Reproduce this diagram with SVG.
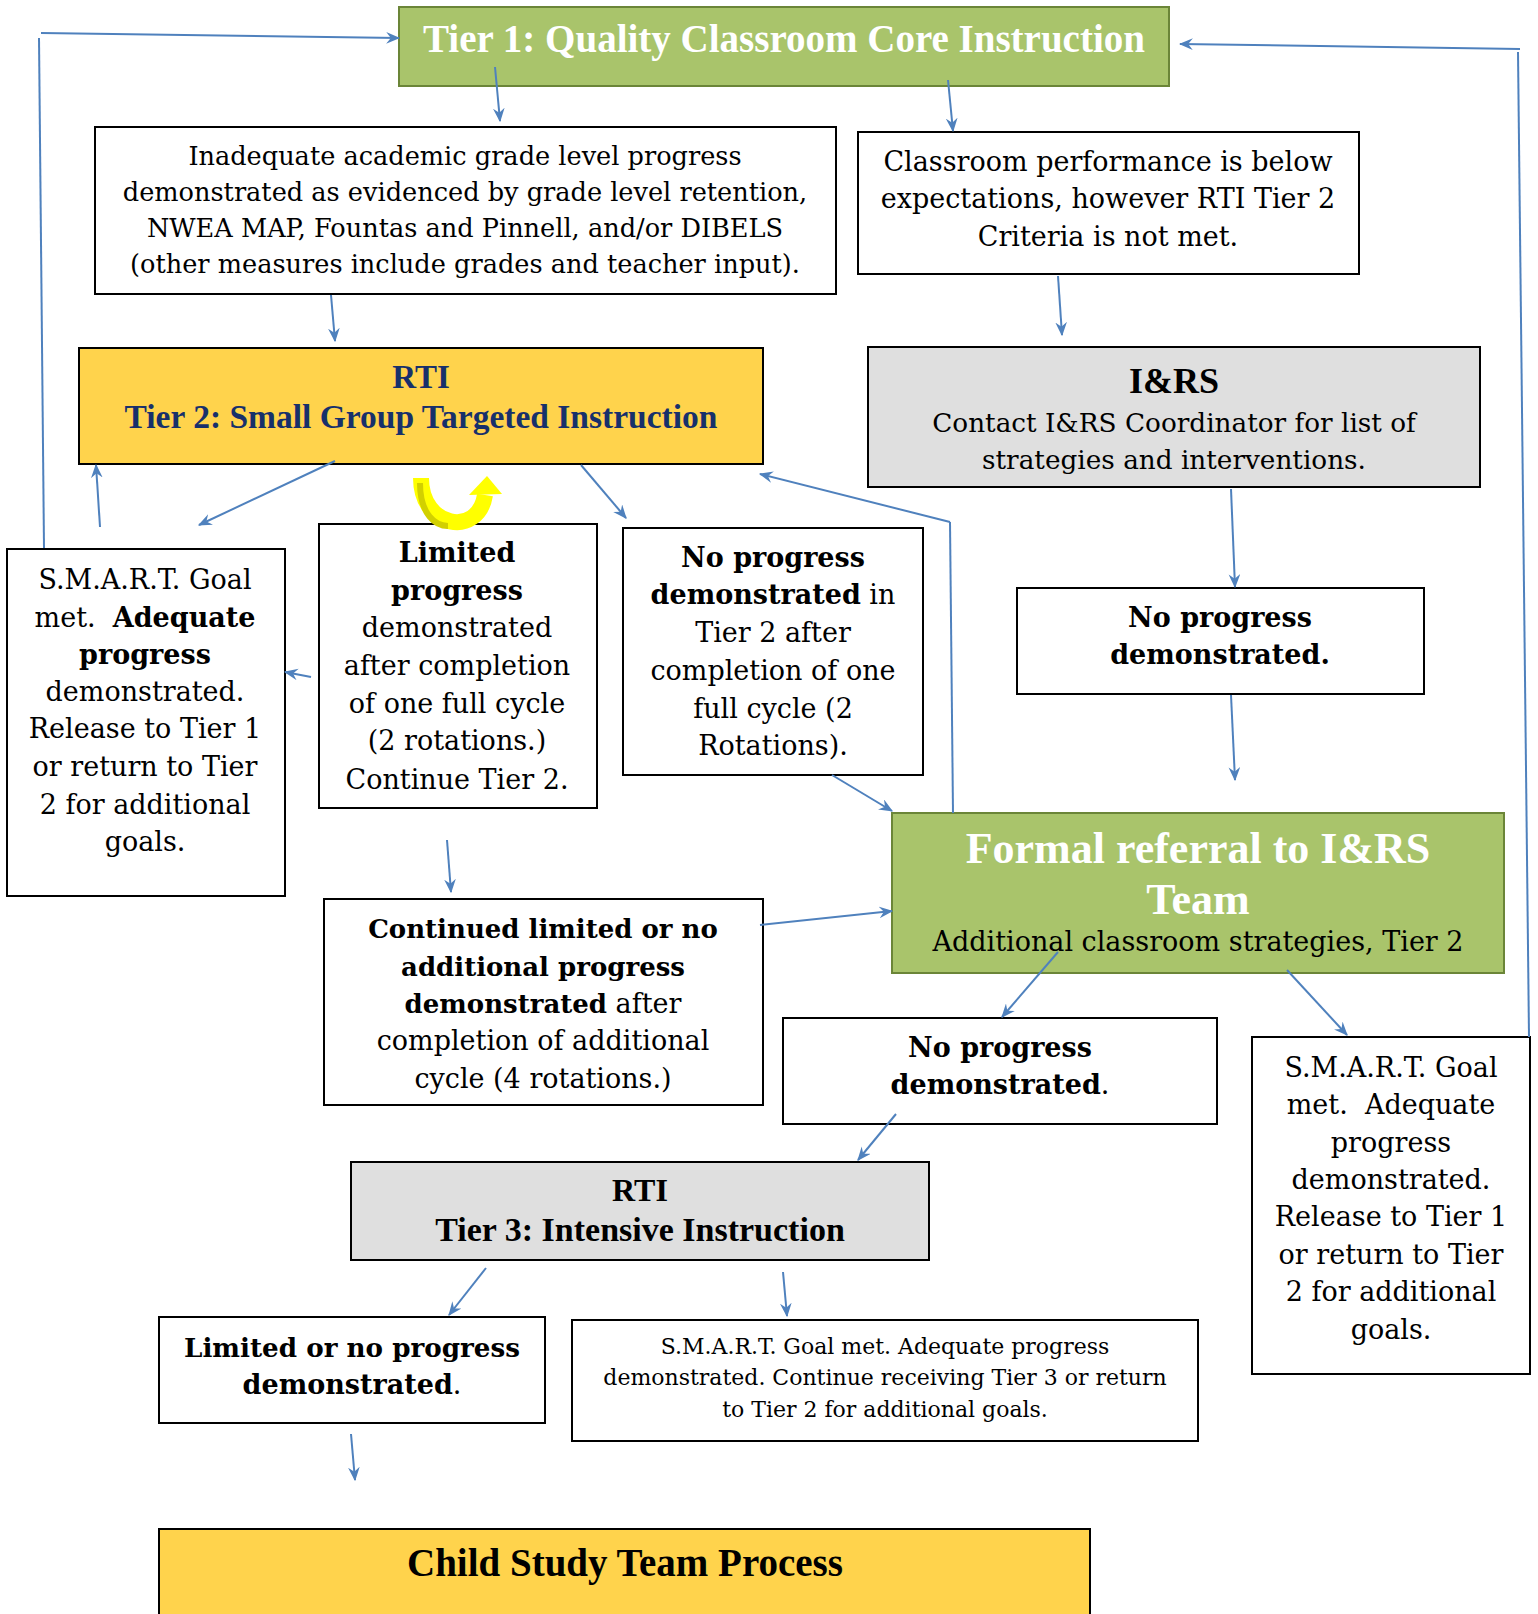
<svg xmlns="http://www.w3.org/2000/svg" width="1538" height="1614" viewBox="0 0 1538 1614">
<style>
text{font-family:"DejaVu Serif","Liberation Serif",serif;font-size:27px;fill:#000;text-anchor:middle}
.b{font-weight:bold}
.h{font-family:"Liberation Serif","Times New Roman",serif;font-weight:bold}
.box{fill:#fff;stroke:#000;stroke-width:2}
.green{fill:#A9C46B;stroke:#6B8538;stroke-width:2}
.yellow{fill:#FFD34C;stroke:#000;stroke-width:2}
.gray{fill:#DFDFDF;stroke:#000;stroke-width:2}
.wt{fill:#fff}
.navy{fill:#17306B}
.sm{font-size:22px}
.c{fill:none;stroke:#4F81BD;stroke-width:2;marker-end:url(#ah)}
.cn{fill:none;stroke:#4F81BD;stroke-width:2}
</style>
<defs>
<marker id="ah" viewBox="0 0 12 10" refX="11" refY="5" markerWidth="14" markerHeight="12" markerUnits="userSpaceOnUse" orient="auto">
<path d="M0,0 L12,5 L0,10 L4,5 Z" fill="#4F81BD"/>
</marker>
</defs>

<g id="tier1">
<rect class="green" x="399" y="7" width="770" height="79"/>
<text class="h wt" x="784" y="52" style="font-size:39px">Tier 1: Quality Classroom Core Instruction</text>
</g>

<g id="inadequate">
<rect class="box" x="95" y="127" width="741" height="167"/>
<text x="465" y="165" style="font-size:25.6px">Inadequate academic grade level progress</text>
<text x="465" y="201" style="font-size:25.6px">demonstrated as evidenced by grade level retention,</text>
<text x="465" y="237" style="font-size:25.6px">NWEA MAP, Fountas and Pinnell, and/or DIBELS</text>
<text x="465" y="273" style="font-size:25.6px">(other measures include grades and teacher input).</text>
</g>

<g id="classroom">
<rect class="box" x="858" y="132" width="501" height="142"/>
<text x="1108" y="171">Classroom performance is below</text>
<text x="1108" y="208">expectations, however RTI Tier 2</text>
<text x="1108" y="246">Criteria is not met.</text>
</g>

<g id="tier2">
<rect class="yellow" x="79" y="348" width="684" height="116"/>
<text class="h navy" x="421" y="388" style="font-size:33px">RTI</text>
<text class="h navy" x="421" y="428" style="font-size:33.5px">Tier 2: Small Group Targeted Instruction</text>
</g>

<g id="irs">
<rect class="gray" x="868" y="347" width="612" height="140"/>
<text class="h" x="1174" y="393" style="font-size:36px">I&amp;RS</text>
<text x="1174" y="432" style="font-size:26.3px">Contact I&amp;RS Coordinator for list of</text>
<text x="1174" y="469" style="font-size:26.3px">strategies and interventions.</text>
</g>

<g id="smart-left">
<rect class="box" x="7" y="549" width="278" height="347"/>
<text x="145" y="589">S.M.A.R.T. Goal</text>
<text x="145" y="627" xml:space="preserve">met.  <tspan class="b">Adequate</tspan></text>
<text class="b" x="145" y="664">progress</text>
<text x="145" y="701">demonstrated.</text>
<text x="145" y="738">Release to Tier 1</text>
<text x="145" y="776">or return to Tier</text>
<text x="145" y="814">2 for additional</text>
<text x="145" y="851">goals.</text>
</g>

<g id="limited">
<rect class="box" x="319" y="524" width="278" height="284"/>
<text class="b" x="457" y="562">Limited</text>
<text class="b" x="457" y="600">progress</text>
<text x="457" y="637">demonstrated</text>
<text x="457" y="675">after completion</text>
<text x="457" y="713">of one full cycle</text>
<text x="457" y="750">(2 rotations.)</text>
<text x="457" y="789">Continue Tier 2.</text>
</g>

<g id="no-progress-t2">
<rect class="box" x="623" y="528" width="300" height="247"/>
<text class="b" x="773" y="567">No progress</text>
<text x="773" y="604"><tspan class="b">demonstrated</tspan> in</text>
<text x="773" y="642">Tier 2 after</text>
<text x="773" y="680">completion of one</text>
<text x="773" y="718">full cycle (2</text>
<text x="773" y="755">Rotations).</text>
</g>

<g id="no-progress-right">
<rect class="box" x="1017" y="588" width="407" height="106"/>
<text class="b" x="1220" y="627">No progress</text>
<text class="b" x="1220" y="664">demonstrated.</text>
</g>

<g id="formal">
<rect class="green" x="892" y="813" width="612" height="160"/>
<text class="h wt" x="1198" y="863" style="font-size:44px">Formal referral to I&amp;RS</text>
<text class="h wt" x="1198" y="914" style="font-size:44px">Team</text>
<text x="1198" y="951">Additional classroom strategies, Tier 2</text>
</g>

<g id="continued">
<rect class="box" x="324" y="899" width="439" height="206"/>
<text class="b" x="543" y="938" style="font-size:26px">Continued limited or no</text>
<text class="b" x="543" y="976" style="font-size:26px">additional progress</text>
<text x="543" y="1013"><tspan class="b" style="font-size:26px">demonstrated</tspan> after</text>
<text x="543" y="1050">completion of additional</text>
<text x="543" y="1088">cycle (4 rotations.)</text>
</g>

<g id="no-progress-mid">
<rect class="box" x="783" y="1018" width="434" height="106"/>
<text class="b" x="1000" y="1057">No progress</text>
<text x="1000" y="1094"><tspan class="b">demonstrated</tspan>.</text>
</g>

<g id="smart-right">
<rect class="box" x="1252" y="1037" width="278" height="337"/>
<text x="1391" y="1077">S.M.A.R.T. Goal</text>
<text x="1391" y="1114" xml:space="preserve">met.  Adequate</text>
<text x="1391" y="1152">progress</text>
<text x="1391" y="1189">demonstrated.</text>
<text x="1391" y="1226">Release to Tier 1</text>
<text x="1391" y="1264">or return to Tier</text>
<text x="1391" y="1301">2 for additional</text>
<text x="1391" y="1339">goals.</text>
</g>

<g id="tier3">
<rect class="gray" x="351" y="1162" width="578" height="98"/>
<text class="h" x="640" y="1201" style="font-size:32px">RTI</text>
<text class="h" x="640" y="1241" style="font-size:34px">Tier 3: Intensive Instruction</text>
</g>

<g id="limited-or-no">
<rect class="box" x="159" y="1317" width="386" height="106"/>
<text class="b" x="352" y="1357" style="font-size:26.2px">Limited or no progress</text>
<text x="352" y="1394"><tspan class="b">demonstrated</tspan>.</text>
</g>

<g id="smart-bottom">
<rect class="box" x="572" y="1320" width="626" height="121"/>
<text class="sm" x="885" y="1354">S.M.A.R.T. Goal met. Adequate progress</text>
<text class="sm" x="885" y="1385">demonstrated. Continue receiving Tier 3 or return</text>
<text class="sm" x="885" y="1417">to Tier 2 for additional goals.</text>
</g>

<g id="child-study">
<rect class="yellow" x="159" y="1529" width="931" height="100"/>
<text class="h" x="625" y="1576" style="font-size:39px">Child Study Team Process</text>
</g>

<g id="connectors">
<path class="cn" d="M44,548 L39,38"/>
<path class="c" d="M41,33 L399,38"/>
<path class="cn" d="M1529,1037 L1518,52"/>
<path class="c" d="M1520,49 L1180,44"/>
<path class="c" d="M495,67 L500,121"/>
<path class="c" d="M948,80 L953,131"/>
<path class="c" d="M331,295 L335,341"/>
<path class="c" d="M1058,276 L1062,335"/>
<path class="c" d="M335,461 L199,525"/>
<path class="c" d="M100,527 L96,465"/>
<path class="c" d="M581,465 L626,518"/>
<path class="c" d="M311,677 L285,672"/>
<path class="cn" d="M953,813 L950,522"/>
<path class="c" d="M950,522 L760,474"/>
<path class="c" d="M832,775 L892,811"/>
<path class="c" d="M1231,489 L1235,587"/>
<path class="c" d="M1231,695 L1235,780"/>
<path class="c" d="M447,840 L451,892"/>
<path class="c" d="M760,925 L892,911"/>
<path class="c" d="M1058,952 L1002,1017"/>
<path class="c" d="M1287,970 L1347,1035"/>
<path class="c" d="M896,1114 L858,1160"/>
<path class="c" d="M486,1268 L449,1315"/>
<path class="c" d="M783,1272 L787,1316"/>
<path class="c" d="M351,1434 L355,1480"/>
<g id="uturn">
<path d="M421,478 C421,528 478,538 485,495" fill="none" stroke="#FFFF00" stroke-width="16"/>
<path d="M420,483 C420,515 436,526 448,526" fill="none" stroke="#D2D000" stroke-width="6"/>
<polygon points="487,476 469,495 502,494" fill="#FFFF00"/>
</g>
</g>
</svg>
